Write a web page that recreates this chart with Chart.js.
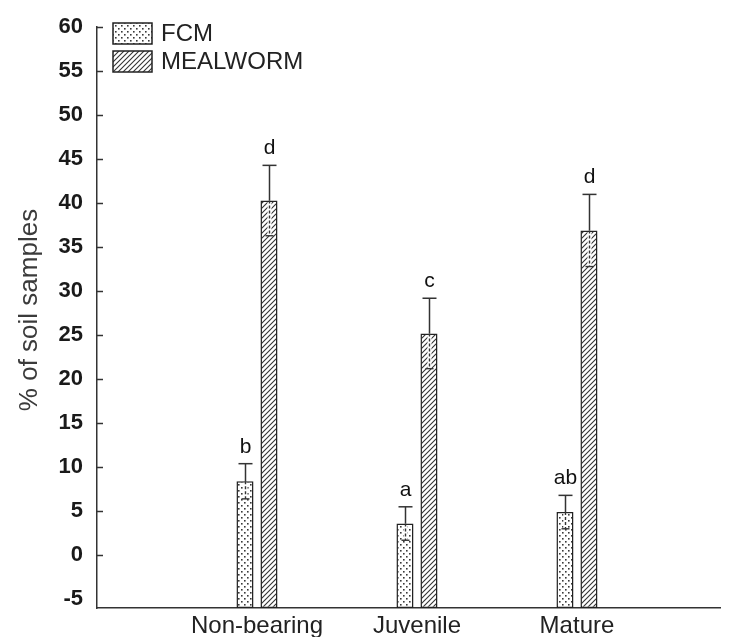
<html>
<head>
<script src="https://cdn.jsdelivr.net/npm/chart.js"></script>
<style>
body { margin: 0; background: #fff; }
#wrap { width: 729px; height: 637px; }
</style>
</head>
<body>
<div id="wrap"><canvas id="soilChart"></canvas></div>

<script>
// data
const categories = ['Non-bearing', 'Juvenile', 'Mature'];
const fcmValues = [8.4, 3.6, 4.9];
const fcmErrors = [2.0, 1.9, 1.9];
const fcmLetters = ['b', 'a', 'ab'];
const mealwormValues = [40.3, 25.2, 36.9];
const mealwormErrors = [4.0, 4.0, 4.1];
const mealwormLetters = ['d', 'c', 'd'];
const yTicks = [-5, 0, 5, 10, 15, 20, 25, 30, 35, 40, 45, 50, 55, 60];
const yMin = -6;
const yMax = 60;

const FONT = '"Liberation Sans", Arial, sans-serif';

function dotPattern() {
    let c = document.createElement('canvas');
    c.width = 6; c.height = 6;
    let g = c.getContext('2d');
    g.fillStyle = '#fff';
    g.fillRect(0, 0, 6, 6);
    g.fillStyle = '#3a3a3a';
    g.fillRect(1, 1, 1.6, 1.6);
    g.fillRect(4, 4, 1.6, 1.6);
    return g.createPattern(c, 'repeat');
}

function hatchPattern() {
    let s = 5;
    let c = document.createElement('canvas');
    c.width = s; c.height = s;
    let g = c.getContext('2d');
    g.fillStyle = '#fff';
    g.fillRect(0, 0, s, s);
    g.strokeStyle = '#333';
    g.lineWidth = 1.1;
    g.beginPath();
    g.moveTo(0, s); g.lineTo(s, 0);
    g.moveTo(-s / 2, s / 2); g.lineTo(s / 2, -s / 2);
    g.moveTo(s / 2, s * 1.5); g.lineTo(s * 1.5, s / 2);
    g.stroke();
    return g.createPattern(c, 'repeat');
}

function line(ctx, x1, y1, x2, y2) {
    ctx.beginPath();
    ctx.moveTo(x1, y1);
    ctx.lineTo(x2, y2);
    ctx.stroke();
}

// error bars + significance letters
const errorBars = {
    id: 'errorBars',
    afterDatasetsDraw(chart) {
        const ctx = chart.ctx;
        const y = chart.scales.y;
        chart.data.datasets.forEach(function(ds, di) {
            const meta = chart.getDatasetMeta(di);
            meta.data.forEach(function(bar, i) {
                const v = ds.data[i].y;
                const e = ds.errors[i];
                const x = Math.round(bar.x) + 0.5;
                const head = y.getPixelForValue(v);
                const top = y.getPixelForValue(v + e);
                const low = y.getPixelForValue(v - e);
                ctx.save();
                // lower whisker shows through the bar
                ctx.strokeStyle = '#fff';
                ctx.lineWidth = 4;
                line(ctx, x, head + 1.5, x, low);
                ctx.strokeStyle = '#333';
                ctx.lineWidth = 1.4;
                ctx.setLineDash([3, 2]);
                line(ctx, x, head, x, low);
                ctx.setLineDash([]);
                line(ctx, x - 4, low, x + 4, low);
                ctx.lineWidth = 1.5;
                line(ctx, x, head, x, top);
                line(ctx, x - 7, top, x + 7, top);
                ctx.fillStyle = '#111';
                ctx.font = '21px ' + FONT;
                ctx.textAlign = 'center';
                ctx.textBaseline = 'alphabetic';
                ctx.fillText(ds.letters[i], x, top - 11);
                ctx.restore();
            });
        });
    }
};

// inward tick marks, y title and the legend box
const decor = {
    id: 'decor',
    afterDraw(chart) {
        const ctx = chart.ctx;
        const a = chart.chartArea;
        const y = chart.scales.y;
        ctx.save();
        ctx.strokeStyle = '#333';
        ctx.lineWidth = 1.5;
        yTicks.forEach(function(v) {
            if (v === yTicks[0]) return;
            const py = Math.round(y.getPixelForValue(v)) + 0.5;
            line(ctx, a.left, py, a.left + 6, py);
        });

        ctx.translate(30, 310);
        ctx.rotate(-Math.PI / 2);
        ctx.fillStyle = '#3b3b3b';
        ctx.font = '26px ' + FONT;
        ctx.textAlign = 'center';
        ctx.textBaseline = 'middle';
        ctx.fillText('% of soil samples', 0, 0);
        ctx.restore();

        ctx.save();
        chart.data.datasets.forEach(function(ds, i) {
            const bx = 113, by = 23 + i * 28;
            ctx.fillStyle = ds.backgroundColor;
            ctx.fillRect(bx, by, 39, 21);
            ctx.strokeStyle = '#222';
            ctx.lineWidth = 1.5;
            ctx.strokeRect(bx, by, 39, 21);
            ctx.fillStyle = '#222';
            ctx.font = '24px ' + FONT;
            ctx.textAlign = 'left';
            ctx.textBaseline = 'middle';
            ctx.fillText(ds.label, bx + 48, by + 11);
        });
        ctx.restore();
    }
};

function points(values) {
    return values.map(function(v, i) { return {x: i + 1, y: v}; });
}

var ctx = document.getElementById('soilChart').getContext('2d');
var chart = new Chart(ctx, {
    type: 'bar',
    data: {
        datasets: [{
            label: 'FCM',
            data: points(fcmValues),
            errors: fcmErrors,
            letters: fcmLetters,
            backgroundColor: dotPattern(),
            borderColor: '#222',
            borderWidth: 1.5,
            borderSkipped: false,
            base: yMin,
            categoryPercentage: 0.3,
            barPercentage: 0.71
        }, {
            label: 'MEALWORM',
            data: points(mealwormValues),
            errors: mealwormErrors,
            letters: mealwormLetters,
            backgroundColor: hatchPattern(),
            borderColor: '#222',
            borderWidth: 1.5,
            borderSkipped: false,
            base: yMin,
            categoryPercentage: 0.3,
            barPercentage: 0.71
        }]
    },
    options: {
        responsive: true,
        maintainAspectRatio: false,
        animation: false,
        layout: { padding: { top: 27, right: 9, left: 0, bottom: 0 } },
        plugins: { legend: { display: false }, tooltip: { enabled: false } },
        scales: {
            x: {
                type: 'linear',
                offset: false,
                min: 0,
                max: categories.length + 0.894,
                afterBuildTicks: function(s) {
                    s.ticks = categories.map(function(c, i) { return {value: i + 1}; });
                },
                afterFit: function(s) { s.height = 29; },
                grid: { display: true, drawOnChartArea: false, drawTicks: false },
                border: { display: true, color: '#333', width: 1.5 },
                ticks: {
                    autoSkip: false,
                    maxRotation: 0,
                    padding: 4,
                    color: '#222',
                    font: { family: FONT, size: 24 },
                    callback: function(v) { return categories[v - 1]; }
                }
            },
            y: {
                min: yMin,
                max: yMax,
                afterBuildTicks: function(s) {
                    s.ticks = yTicks.map(function(v) { return {value: v}; });
                },
                afterFit: function(s) { s.width = 97; },
                grid: { display: true, drawOnChartArea: false, drawTicks: false },
                border: { display: true, color: '#333', width: 1.5 },
                ticks: {
                    padding: 14,
                    color: '#1a1a1a',
                    font: { family: FONT, size: 22, weight: 'bold' }
                }
            }
        }
    },
    plugins: [errorBars, decor]
});
</script>
</body>
</html>
